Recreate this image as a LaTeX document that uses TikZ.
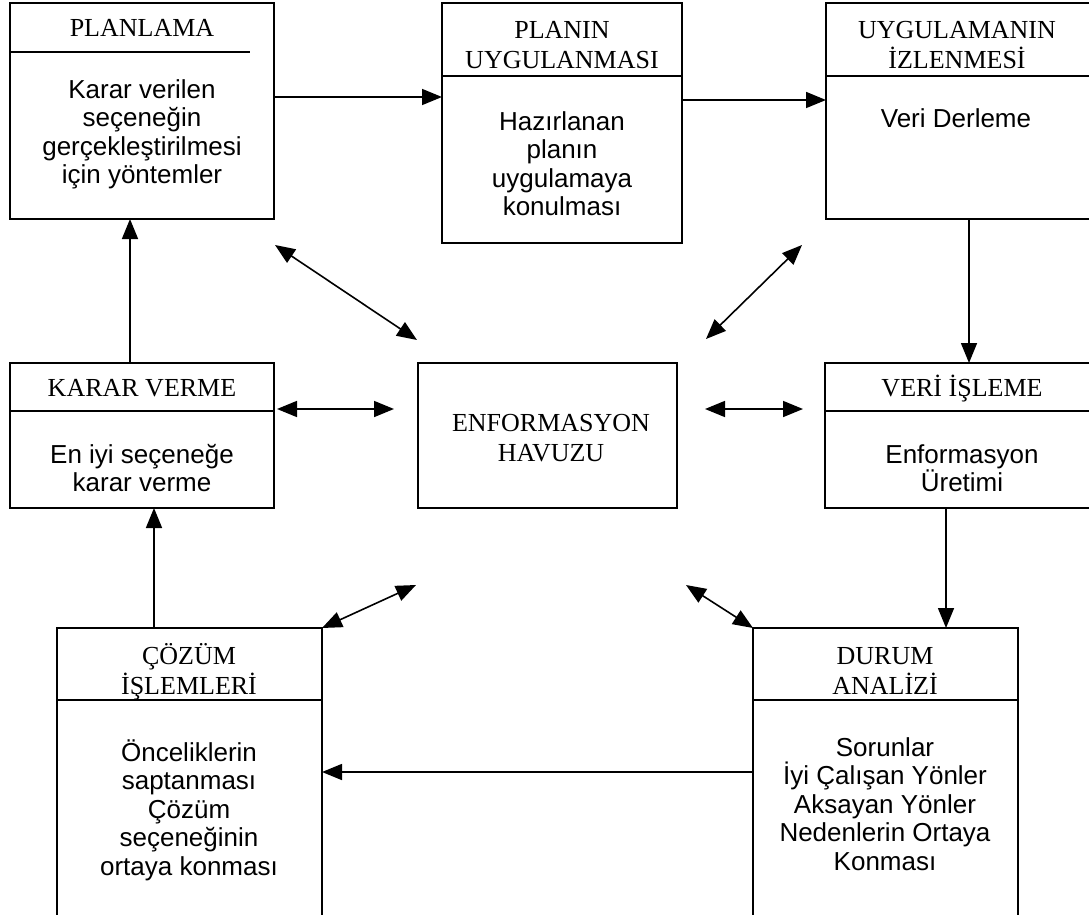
\documentclass[tikz,border=0pt]{standalone}
\usepackage{fontspec}
\setmainfont{Liberation Serif}
\setsansfont{Liberation Sans}
\usetikzlibrary{arrows.meta}
\tikzstyle{Box}=[draw,line width=1.6pt,inner sep=0pt,outer sep=0pt]
\tikzstyle{Title}=[anchor=base,align=center,inner sep=0pt,
font=\fontsize{26}{30}\selectfont]
\tikzstyle{Body}=[anchor=base,align=center,inner sep=0pt,
font=\sffamily\fontsize{26}{28.5}\selectfont]
\tikzstyle{Sep}=[line width=1.6pt]
\tikzstyle{Arrow}=[line width=1.6pt,-{Triangle[length=20pt,width=16pt]}]
\tikzstyle{Both}=[line width=1.6pt,
{Triangle[length=20pt,width=16pt]}-{Triangle[length=20pt,width=16pt]}]

\begin{document}
\begin{tikzpicture}[x=1pt,y=-1pt]
        \path[use as bounding box,fill=white](0,0)rectangle(1089,915);
        \clip(0,0)rectangle(1089,915);
        % boxes
        \node[Box,minimum width=264pt,minimum height=216pt](plan)at(142,111){};
        \node[Box,minimum width=240pt,minimum height=240pt](uyg)at(562,123){};
        \node[Box,minimum width=264pt,minimum height=216pt](izl)at(958,111){};
        \node[Box,minimum width=264pt,minimum height=145pt](karar)at(142,435.5){};
        \node[Box,minimum width=259pt,minimum height=145pt](havuz)at(547.5,435.5){};
        \node[Box,minimum width=274pt,minimum height=145pt](veri)at(962,435.5){};
        \node[Box,minimum width=265pt,minimum height=312pt](cozum)at(189.5,784){};
        \node[Box,minimum width=265pt,minimum height=312pt](durum)at(885.5,784){};
        % title rules
        \draw[Sep](10,52)--(250,52);
        \draw[Sep](442,76)--(682,76);
        \draw[Sep](826,76)--(1090,76);
        \draw[Sep](10,411)--(274,411);
        \draw[Sep](825,411)--(1099,411);
        \draw[Sep](57,700)--(322,700);
        \draw[Sep](753,700)--(1018,700);
        % texts (placed at the baseline of their last line)
        \node[Title](planT)at(142,37){PLANLAMA};
        \node[Body](planB)at(142,183.5)
            {Karar verilen\\seçeneğin\\gerçekleştirilmesi\\için yöntemler};
        \node[Title](uygT)at(562,69){PLANIN\\UYGULANMASI};
        \node[Body](uygB)at(562,215.5)
            {Hazırlanan\\planın\\uygulamaya\\konulması};
        \node[Title](izlT)at(957,69){UYGULAMANIN\\İZLENMESİ};
        \node[Body](izlB)at(956,128){Veri Derleme};
        \node[Title](kararT)at(142,396){KARAR VERME};
        \node[Body](kararB)at(142,491.5){En iyi seçeneğe\\karar verme};
        \node[Title](havuzT)at(551,461){ENFORMASYON\\HAVUZU};
        \node[Title](veriT)at(962,396){VERİ İŞLEME};
        \node[Body](veriB)at(962,491.5){Enformasyon\\Üretimi};
        \node[Title](cozumT)at(189,694){ÇÖZÜM\\İŞLEMLERİ};
        \node[Body](cozumB)at(189,875)
            {Önceliklerin\\saptanması\\Çözüm\\seçeneğinin\\ortaya konması};
        \node[Title](durumT)at(885,694){DURUM\\ANALİZİ};
        \node[Body](durumB)at(885,870)
            {Sorunlar\\İyi Çalışan Yönler\\Aksayan Yönler\\Nedenlerin Ortaya\\Konması};
        % cycle
        \coordinate(r1)at(0,97);
        \coordinate(r2)at(0,100);
        \coordinate(r3)at(0,772);
        \coordinate(c1)at(969,0);
        \coordinate(c2)at(946,0);
        \coordinate(c3)at(154,0);
        \coordinate(c4)at(130,0);
        \draw[Arrow](plan.east|-r1)--(uyg.west|-r1);
        \draw[Arrow](uyg.east|-r2)--(izl.west|-r2);
        \draw[Arrow](izl.south-|c1)--(veri.north-|c1);
        \draw[Arrow](veri.south-|c2)--(durum.north-|c2);
        \draw[Arrow](durum.west|-r3)--(cozum.east|-r3);
        \draw[Arrow](cozum.north-|c3)--(karar.south-|c3);
        \draw[Arrow](karar.north-|c4)--(plan.south-|c4);
        % pool links
        \coordinate(u1)at(275,245);
        \coordinate(v1)at(417,340);
        \coordinate(u2)at(802,245);
        \coordinate(v2)at(706,339);
        \coordinate(u3)at(277,409);
        \coordinate(v3)at(394,409);
        \coordinate(u4)at(705,409);
        \coordinate(v4)at(803,409);
        \coordinate(u5)at(416,585);
        \coordinate(u6)at(686,585);
        \draw[Both](u1)--(v1);
        \draw[Both](u2)--(v2);
        \draw[Both](u3)--(v3);
        \draw[Both](u4)--(v4);
        \draw[Both](u5)--(cozum.north east);
        \draw[Both](u6)--(durum.north west);
    \end{tikzpicture}
\end{document}
